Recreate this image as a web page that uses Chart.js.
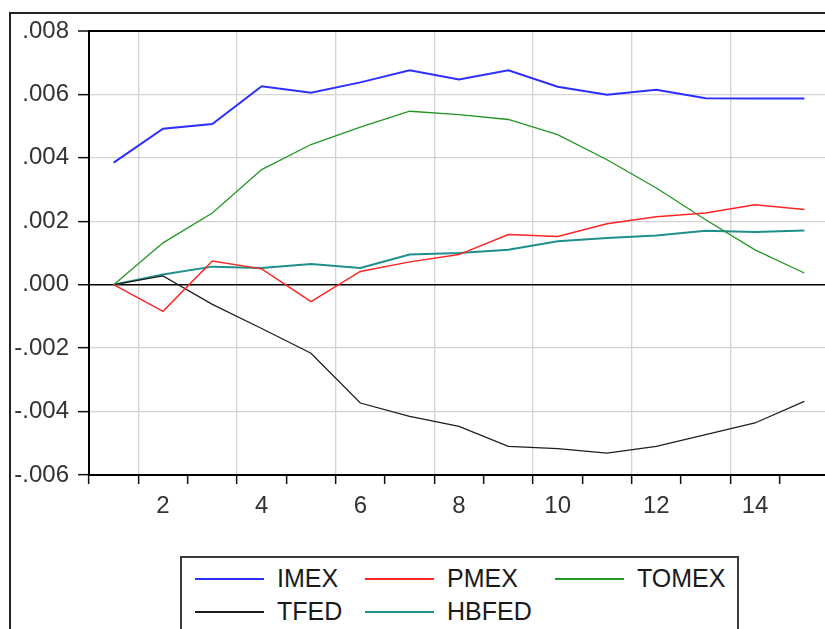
<!DOCTYPE html>
<html>
<head>
<meta charset="utf-8">
<script src="https://cdn.jsdelivr.net/npm/chart.js@4.4.1/dist/chart.umd.min.js"></script>
<style>
  html, body { margin: 0; padding: 0; background: #fff; width: 825px; height: 629px; overflow: hidden; }
  #frame { position: absolute; left: 9px; top: 12px; width: 900px; height: 700px; border: 2px solid #222; }
  #chartBox { position: absolute; left: 0; top: 0; }
  #legend {
    position: absolute; left: 180px; top: 556px; width: 559px; height: 120px;
    box-sizing: border-box; border: 2px solid #3a3a3a; background: #fff;
    padding: 4px 0 0 13px;
    display: grid; grid-template-columns: 170px 190px auto; grid-auto-rows: 33px;
    font-family: "Liberation Sans", Arial, sans-serif; font-size: 25px; color: #1a1a1a;
  }
  .item { display: flex; align-items: center; }
  .swatch { width: 69px; height: 2px; margin-right: 13px; }
</style>
</head>
<body>
<div id="frame"></div>
<canvas id="chartBox" width="860" height="540"></canvas>
<div id="legend"></div>
<script>
// observations and tick labels
const obs = [1, 2, 3, 4, 5, 6, 7, 8, 9, 10, 11, 12, 13, 14, 15];
const xLabels = [2, 4, 6, 8, 10, 12, 14];

// series
const imex  = [0.00385, 0.00492, 0.00507, 0.00626, 0.00605, 0.00638, 0.00676, 0.00647, 0.00676, 0.00624, 0.00599, 0.00615, 0.00588, 0.00587, 0.00587];
const pmex  = [0, -0.00084, 0.00075, 0.00050, -0.00053, 0.00042, 0.00072, 0.00095, 0.00158, 0.00152, 0.00192, 0.00214, 0.00226, 0.00252, 0.00237];
const tomex = [0, 0.00132, 0.00226, 0.00363, 0.00442, 0.00497, 0.00547, 0.00536, 0.00521, 0.00473, 0.00394, 0.00305, 0.00205, 0.00110, 0.00037];
const tfed  = [0, 0.00028, -0.00062, -0.00138, -0.00216, -0.00373, -0.00415, -0.00447, -0.00510, -0.00517, -0.00531, -0.00510, -0.00473, -0.00436, -0.00368];
const hbfed = [0, 0.00032, 0.00057, 0.00053, 0.00065, 0.00053, 0.00095, 0.00100, 0.00110, 0.00137, 0.00147, 0.00155, 0.00170, 0.00166, 0.00171];

const FONT = "'Liberation Sans', Arial, sans-serif";
const near = (a, b) => Math.abs(a - b) < 1e-9;

function series(label, values, color, width) {
  return {
    label,
    data: values.map((v, i) => ({ x: obs[i], y: v })),
    borderColor: color,
    backgroundColor: color,
    borderWidth: width,
    pointRadius: 0,
    tension: 0,
    fill: false
  };
}

// tick slots: every half observation (ticks at .5, labels at even integers)
const xTicks = [];
obs.forEach(o => { xTicks.push(o - 0.5); xTicks.push(o); });
xTicks.push(obs[obs.length - 1] + 0.5);

const chart = new Chart(document.getElementById("chartBox"), {
  type: "line",
  data: {
    datasets: [
      series("IMEX", imex, "#2e2eff", 2),
      series("PMEX", pmex, "#ff2424", 1.5),
      series("TOMEX", tomex, "#239623", 1.3),
      series("TFED", tfed, "#1e1e1e", 1.3),
      series("HBFED", hbfed, "#1f8f8c", 2)
    ]
  },
  options: {
    responsive: false,
    animation: false,
    layout: { padding: { left: 0, top: 31, right: 31, bottom: 0 } },
    plugins: {
      legend: { display: false },
      tooltip: { enabled: false }
    },
    scales: {
      x: {
        type: "linear",
        min: 0.5,
        max: 15.5,
        afterBuildTicks: scale => { scale.ticks = xTicks.map(v => ({ value: v })); },
        afterFit: scale => { scale.height = 65; },
        border: { color: "#000", width: 2 },
        grid: {
          color: ctx => (ctx.tick && ctx.tick.value % 2 === 1.5) ? "#d4d4d4" : "rgba(0,0,0,0)",
          lineWidth: 1.3,
          tickLength: 9,
          tickWidth: 1.5,
          tickColor: ctx => (ctx.tick && ctx.tick.value % 1 === 0.5) ? "#111" : "rgba(0,0,0,0)"
        },
        ticks: {
          autoSkip: false,
          maxRotation: 0,
          padding: 8,
          color: "#333",
          font: { family: FONT, size: 24 },
          callback: v => xLabels.includes(v) ? String(v) : ""
        }
      },
      y: {
        min: -0.006,
        max: 0.008,
        afterFit: scale => { scale.width = 89; },
        border: { color: "#000", width: 2 },
        grid: {
          color: ctx => {
            const v = ctx.tick ? ctx.tick.value : 1;
            if (near(v, 0) || near(v, 0.008)) return "#000";
            return "#d4d4d4";
          },
          lineWidth: ctx => {
            const v = ctx.tick ? ctx.tick.value : 1;
            if (near(v, 0)) return 1.5;
            if (near(v, 0.008)) return 2;
            return 1.3;
          },
          tickLength: 11,
          tickWidth: 1.5,
          tickColor: "#111"
        },
        ticks: {
          stepSize: 0.002,
          padding: 9,
          color: "#333",
          font: { family: FONT, size: 24 },
          callback: v => {
            if (near(v, 0)) return ".000";
            return v.toFixed(3).replace("0.", ".");
          }
        }
      }
    }
  }
});

// legend box built from the chart's datasets
const legendEl = document.getElementById("legend");
chart.data.datasets.forEach(ds => {
  const item = document.createElement("div");
  item.className = "item";
  item.innerHTML = `<span class="swatch" style="background:${ds.borderColor}"></span><span>${ds.label}</span>`;
  legendEl.appendChild(item);
});
</script>
</body>
</html>
